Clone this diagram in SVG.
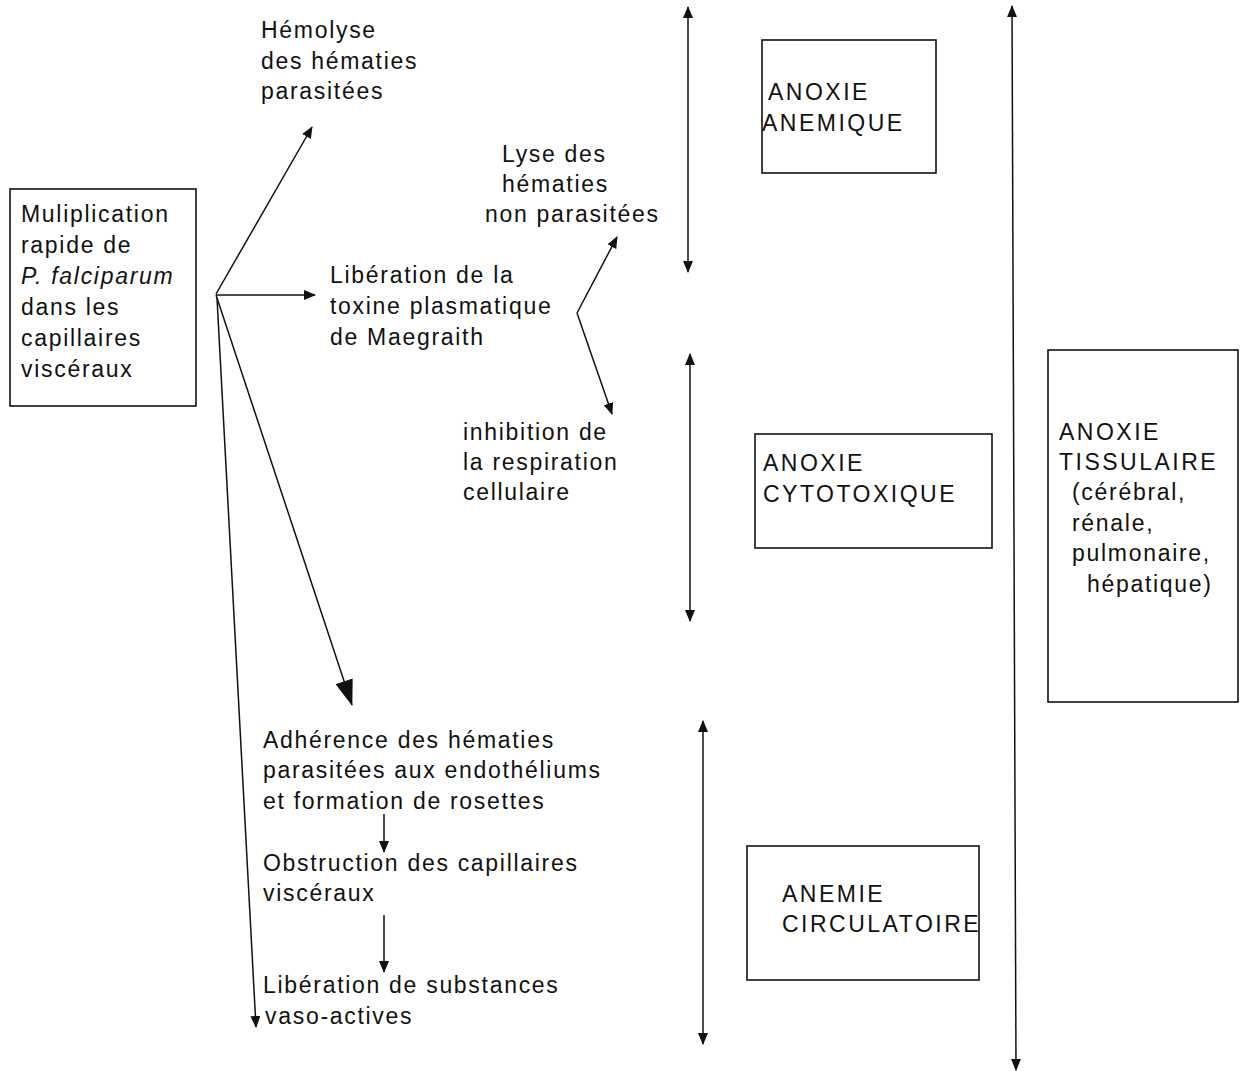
<svg xmlns="http://www.w3.org/2000/svg" width="1245" height="1071" viewBox="0 0 1245 1071">
<style>
text{font-family:"Liberation Sans",Arial,sans-serif;font-size:23px;letter-spacing:1.7px;fill:#111}
text.caps{letter-spacing:2.5px}
.box{fill:none;stroke:#111;stroke-width:1.6}
.ln{fill:none;stroke:#111;stroke-width:1.5}
</style>
<defs>
<marker id="ah" viewBox="0 0 12 10" refX="11" refY="5" markerWidth="12" markerHeight="10" markerUnits="userSpaceOnUse" orient="auto-start-reverse"><path d="M0,0 L12,5 L0,10 Z" fill="#111"/></marker>
<marker id="ahb" viewBox="0 0 26 18" refX="25" refY="9" markerWidth="26" markerHeight="18" markerUnits="userSpaceOnUse" orient="auto"><path d="M0,0 L26,9 L0,18 Z" fill="#111"/></marker>
</defs>

<g id="n-multiplication">
<rect class="box" x="10" y="189" width="186" height="217"/>
<text x="21" y="222">Muliplication</text>
<text x="21" y="253">rapide de</text>
<text x="21" y="284" font-style="italic">P. falciparum</text>
<text x="21" y="315">dans les</text>
<text x="21" y="346">capillaires</text>
<text x="21" y="377">viscéraux</text>
</g>

<g id="n-hemolyse">
<text x="261" y="38">Hémolyse</text>
<text x="261" y="69">des hématies</text>
<text x="261" y="99">parasitées</text>
</g>

<g id="n-liberation-toxine">
<text x="330" y="283">Libération de la</text>
<text x="330" y="314">toxine plasmatique</text>
<text x="330" y="345">de Maegraith</text>
</g>

<g id="n-lyse">
<text x="502" y="162">Lyse des</text>
<text x="502" y="192">hématies</text>
<text x="485" y="222">non parasitées</text>
</g>

<g id="n-inhibition">
<text x="463" y="440">inhibition de</text>
<text x="463" y="470">la respiration</text>
<text x="463" y="500">cellulaire</text>
</g>

<g id="n-adherence">
<text x="263" y="748">Adhérence des hématies</text>
<text x="263" y="778">parasitées aux endothéliums</text>
<text x="263" y="809">et formation de rosettes</text>
</g>

<g id="n-obstruction">
<text x="263" y="871">Obstruction des capillaires</text>
<text x="263" y="901">viscéraux</text>
</g>

<g id="n-substances">
<text x="263" y="993">Libération de substances</text>
<text x="265" y="1024">vaso-actives</text>
</g>

<g id="n-anoxie-anemique">
<rect class="box" x="762" y="40" width="174" height="133"/>
<text class="caps" x="768" y="100">ANOXIE</text>
<text class="caps" x="762" y="131">ANEMIQUE</text>
</g>

<g id="n-anoxie-cytotoxique">
<rect class="box" x="755" y="434" width="237" height="114"/>
<text class="caps" x="763" y="471">ANOXIE</text>
<text class="caps" x="763" y="502">CYTOTOXIQUE</text>
</g>

<g id="n-anoxie-tissulaire">
<rect class="box" x="1048" y="350" width="190" height="352"/>
<text class="caps" x="1059" y="440">ANOXIE</text>
<text class="caps" x="1059" y="470">TISSULAIRE</text>
<text x="1072" y="500">(cérébral,</text>
<text x="1072" y="531">rénale,</text>
<text x="1072" y="561">pulmonaire,</text>
<text x="1087" y="592">hépatique)</text>
</g>

<g id="n-anemie-circulatoire">
<rect class="box" x="747" y="846" width="232" height="134"/>
<text class="caps" x="782" y="902">ANEMIE</text>
<text class="caps" x="782" y="932">CIRCULATOIRE</text>
</g>

<g id="connectors">
<line class="ln" x1="216" y1="294" x2="312" y2="127" marker-end="url(#ah)"/>
<line class="ln" x1="216" y1="295" x2="315" y2="295" marker-end="url(#ah)"/>
<line class="ln" x1="216" y1="295" x2="352" y2="705" marker-end="url(#ahb)"/>
<line class="ln" x1="217" y1="298" x2="256" y2="1027" marker-end="url(#ah)"/>
<line class="ln" x1="577" y1="313" x2="617" y2="237" marker-end="url(#ah)"/>
<line class="ln" x1="577" y1="313" x2="612" y2="414" marker-end="url(#ah)"/>
<line class="ln" x1="384" y1="814" x2="384" y2="852" marker-end="url(#ah)"/>
<line class="ln" x1="384" y1="915" x2="384" y2="972" marker-end="url(#ah)"/>
<line class="ln" x1="688" y1="7" x2="688" y2="272" marker-start="url(#ah)" marker-end="url(#ah)"/>
<line class="ln" x1="690" y1="354" x2="690" y2="621" marker-start="url(#ah)" marker-end="url(#ah)"/>
<line class="ln" x1="703" y1="721" x2="703" y2="1044" marker-start="url(#ah)" marker-end="url(#ah)"/>
<line class="ln" x1="1012" y1="6" x2="1016" y2="1070" marker-start="url(#ah)" marker-end="url(#ah)"/>
</g>
</svg>
